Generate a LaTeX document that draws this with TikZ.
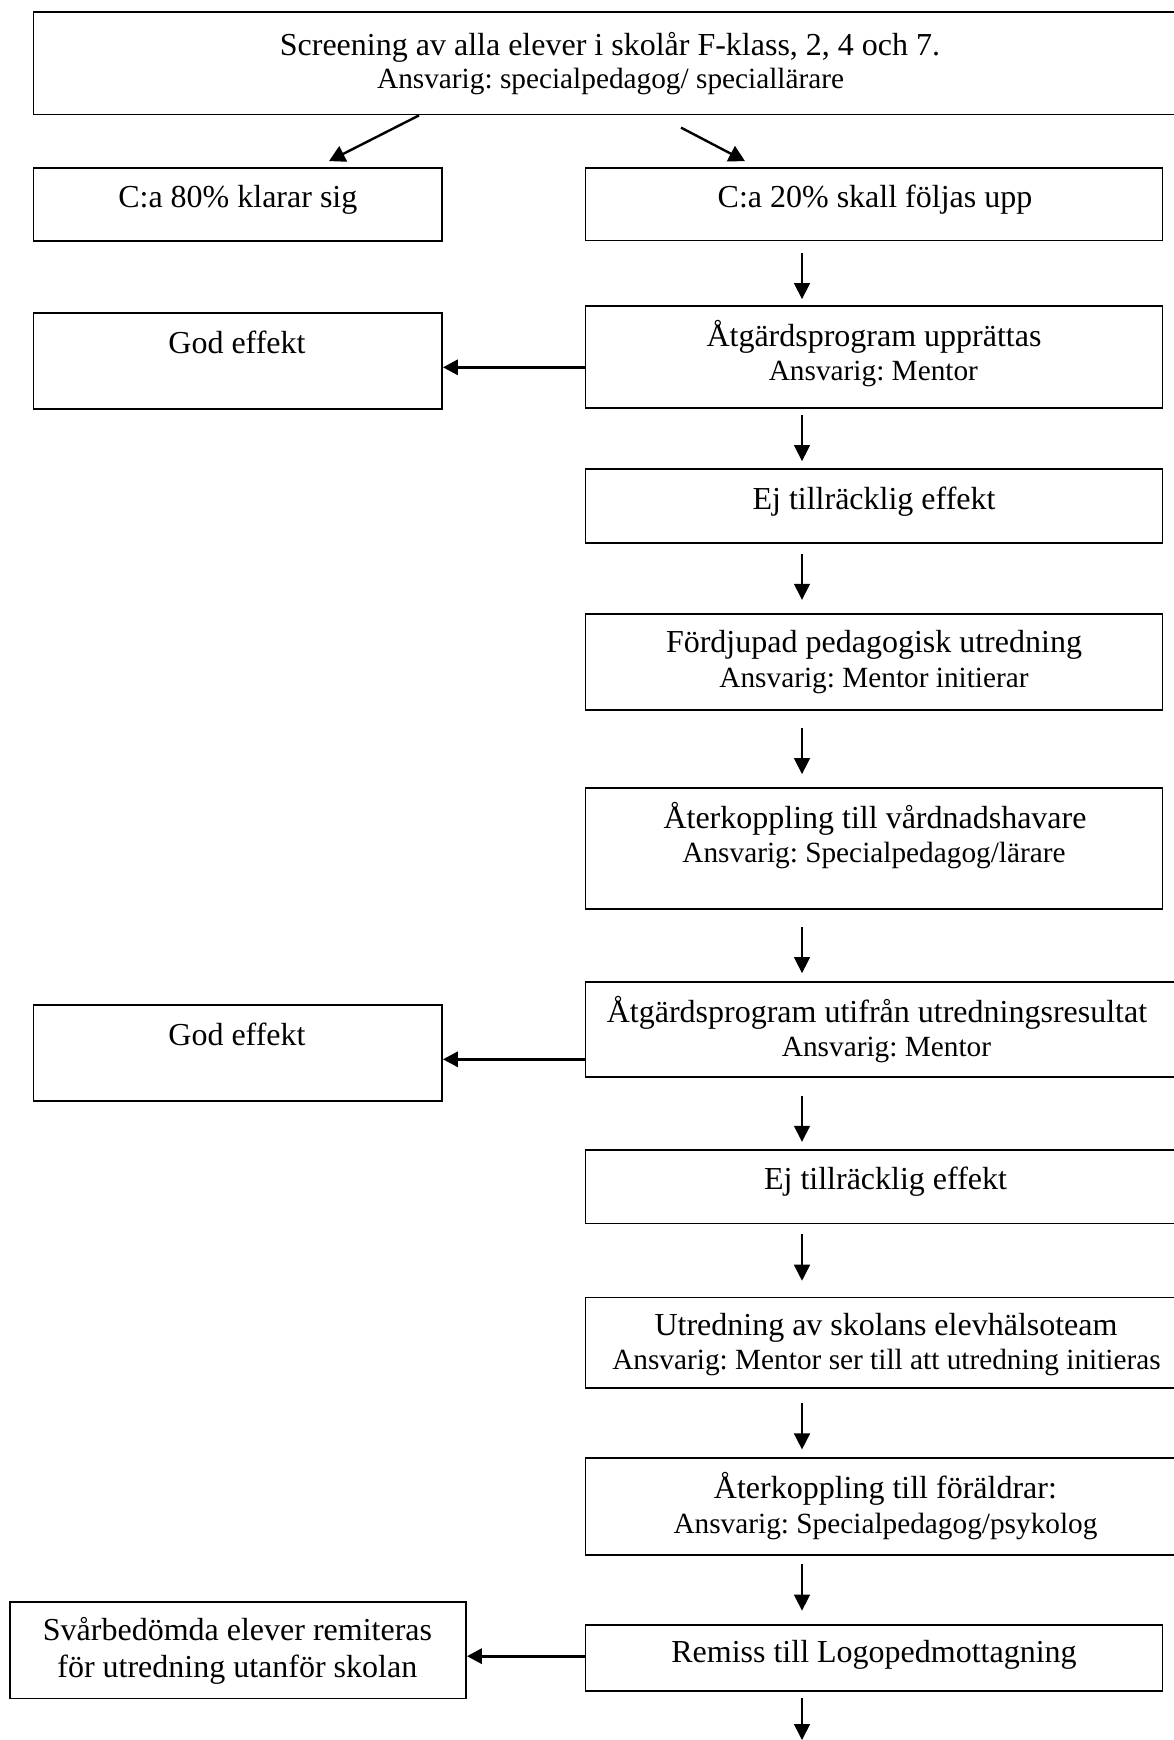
\documentclass[tikz,border=0pt]{standalone}
\usepackage{fontspec}
\setmainfont{Liberation Serif}
\usetikzlibrary{arrows.meta,calc}
\frenchspacing
\newcommand\mkbox[5]{%
  \pgfmathsetmacro\mkbw{#4-#2}\pgfmathsetmacro\mkbh{#5-#3}%
  \pgfmathsetmacro\mkcx{(#2+#4)/2}\pgfmathsetmacro\mkcy{(#3+#5)/2}%
  \node[box, minimum width=\mkbw pt, minimum height=\mkbh pt] (#1) at (\mkcx,\mkcy) {};}
\begin{document}
\begin{tikzpicture}[x=1pt,y=-1pt,
  box/.style={draw, line width=1.8pt, inner sep=0pt, rectangle},
  mt/.style={inner sep=0pt, anchor=base, font=\fontsize{32}{38}\selectfont},
  st/.style={inner sep=0pt, anchor=base, font=\fontsize{29.3}{35}\selectfont},
  varr/.style={line width=1.5pt, -{Triangle[length=16pt,width=16pt]}},
  harr/.style={line width=3.2pt, -{Triangle[length=15pt,width=15pt]}},
  darr/.style={line width=2.4pt, -{Triangle[length=16pt,width=17pt]}}]
\useasboundingbox (0,0) rectangle (1174,1740);
\fill[white] (0,0) rectangle (1174,1740);

% boxes
\mkbox{top}{33.5}{12.3}{1187}{114.5}
\mkbox{b80}{33.5}{168}{442}{240.7}
\mkbox{b20}{585.5}{168}{1162.5}{240.5}
\mkbox{atg1}{585.5}{305.7}{1162.5}{408}
\mkbox{god1}{33.5}{312.7}{442}{409.3}
\mkbox{ej1}{585.5}{469.3}{1162.5}{543}
\mkbox{ford}{585.5}{614}{1162.5}{710}
\mkbox{aterv}{585.5}{788.3}{1162.5}{909}
\mkbox{atg2}{585.5}{981.7}{1187}{1077.3}
\mkbox{god2}{33.5}{1005}{442}{1101}
\mkbox{ej2}{585.5}{1150}{1187}{1223.4}
\mkbox{utr}{585.5}{1297.5}{1187}{1387.7}
\mkbox{aterf}{585.5}{1458.3}{1187}{1554.7}
\mkbox{remiss}{585.5}{1625.3}{1162.5}{1691}
\mkbox{svarb}{9.7}{1602}{466}{1698.5}

% texts
\node[mt] (ttop1) at (610,55.2) {Screening av alla elever i skolår F-klass, 2, 4 och 7.};
\node[st] (ttop2) at (610.6,88.5) {Ansvarig: specialpedagog/ speciallärare};
\node[mt] (tb80) at (237.8,207.5) {C:a 80\% klarar sig};
\node[mt] (tb20) at (875,207.5) {C:a 20\% skall följas upp};
\node[mt] (tatg1a) at (874,346.4) {Åtgärdsprogram upprättas};
\node[st] (tatg1b) at (873.4,380) {Ansvarig: Mentor};
\node[mt] (tgod1) at (237,353) {God effekt};
\node[mt] (tej1) at (874,509.2) {Ej tillräcklig effekt};
\node[mt] (tforda) at (874,652.5) {Fördjupad pedagogisk utredning};
\node[st] (tfordb) at (874,687.5) {Ansvarig: Mentor initierar};
\node[mt] (tatera) at (875,828) {Återkoppling till vårdnadshavare};
\node[st] (taterb) at (874,862.8) {Ansvarig: Specialpedagog/lärare};
\node[mt] (tatg2a) at (877,1022.3) {Åtgärdsprogram utifrån utredningsresultat};
\node[st] (tatg2b) at (886.5,1056.1) {Ansvarig: Mentor};
\node[mt] (tgod2) at (237,1045) {God effekt};
\node[mt] (tej2) at (885.5,1189.2) {Ej tillräcklig effekt};
\node[mt] (tutra) at (886,1335.5) {Utredning av skolans elevhälsoteam};
\node[st] (tutrb) at (886.5,1369.3) {Ansvarig: Mentor ser till att utredning initieras};
\node[mt] (taterfa) at (885.4,1498.3) {Återkoppling till föräldrar:};
\node[st] (taterfb) at (885.5,1533.8) {Ansvarig: Specialpedagog/psykolog};
\node[mt] (tremiss) at (874,1662) {Remiss till Logopedmottagning};
\node[mt] (tsvarba) at (237.5,1640.8) {Svårbedömda elever remiteras};
\node[mt] (tsvarbb) at (237.3,1677.5) {för utredning utanför skolan};

% connectors
\coordinate (ax) at (802,0);
\coordinate (endpt) at (802,1740);
\draw[darr] ([xshift=-191.25pt]top.south) -- ([xshift=91.25pt,yshift=6pt]b80.north);
\draw[darr] ([xshift=70.75pt,yshift=-12.2pt]top.south) -- ([xshift=-129pt,yshift=6pt]b20.north);
\draw[varr, shorten <=11.5pt, shorten >=5.7pt] (b20.south -| ax) -- (atg1.north -| ax);
\draw[varr, shorten <=6pt, shorten >=7.3pt] (atg1.south -| ax) -- (ej1.north -| ax);
\draw[varr, shorten <=9.7pt, shorten >=13.3pt] (ej1.south -| ax) -- (ford.north -| ax);
\draw[varr, shorten <=17.3pt, shorten >=13.3pt] (ford.south -| ax) -- (aterv.north -| ax);
\draw[varr, shorten <=17pt, shorten >=7.7pt] (aterv.south -| ax) -- (atg2.north -| ax);
\draw[varr, shorten <=17.7pt, shorten >=7.3pt] (atg2.south -| ax) -- (ej2.north -| ax);
\draw[varr, shorten <=10pt, shorten >=15.9pt] (ej2.south -| ax) -- (utr.north -| ax);
\draw[varr, shorten <=14.3pt, shorten >=8pt] (utr.south -| ax) -- (aterf.north -| ax);
\draw[varr, shorten <=8.6pt, shorten >=13.8pt] (aterf.south -| ax) -- (remiss.north -| ax);
\draw[varr, shorten <=6pt] (remiss.south -| ax) -- (endpt);
\draw[harr] ($(atg1.west)+(0,10.45)$) coordinate (h1) -- (h1 -| god1.east);
\draw[harr] ($(atg2.west)+(0,29.8)$) coordinate (h2) -- (h2 -| god2.east);
\draw[harr] ($(remiss.west)+(0,-2)$) coordinate (h3) -- (h3 -| svarb.east);
\end{tikzpicture}
\end{document}
